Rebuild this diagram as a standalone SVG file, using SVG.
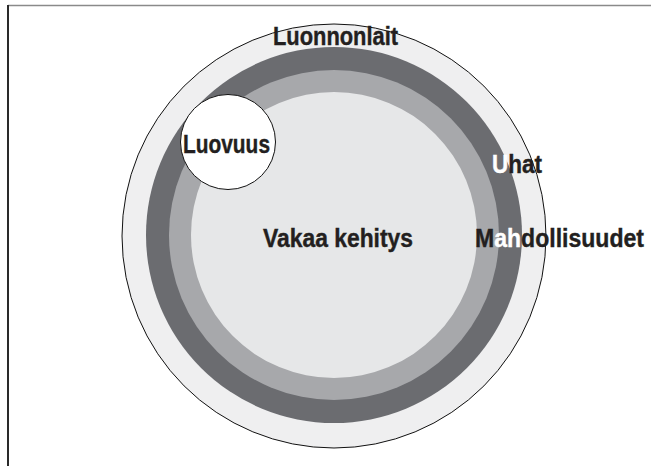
<svg xmlns="http://www.w3.org/2000/svg" width="651" height="466" viewBox="0 0 651 466">
  <style>
    .lbl { font-family: "Liberation Sans", Arial, sans-serif; font-weight: bold; font-size: 26px; fill: #231f20; stroke: #231f20; stroke-width: 0.4; }
    .w { fill: #ffffff; stroke: #ffffff; }
  </style>
  <rect width="651" height="466" fill="#ffffff"/>
  <!-- page frame: top and left rules only -->
  <g id="frame">
    <line x1="8" y1="5.5" x2="651" y2="5.5" stroke="#8a8a8a" stroke-width="1.5"/>
    <line x1="8" y1="5" x2="8" y2="466" stroke="#2a2a2a" stroke-width="2"/>
  </g>

  <g id="luonnonlait">
    <circle cx="334" cy="236" r="212" fill="#efeff0" stroke="#111" stroke-width="1"/>
    <text class="lbl" x="273" y="45" textLength="125" lengthAdjust="spacingAndGlyphs">Luonnonlait</text>
  </g>
  <g id="uhat">
    <circle cx="334" cy="235" r="188" fill="#6b6c70"/>
  </g>
  <g id="mahdollisuudet">
    <circle cx="334" cy="235" r="165" fill="#a7a8ab"/>
  </g>
  <g id="vakaa-kehitys">
    <circle cx="334" cy="235" r="143" fill="#e6e7e8"/>
    <text class="lbl" x="263" y="247" textLength="150" lengthAdjust="spacingAndGlyphs">Vakaa kehitys</text>
  </g>
  <g id="luovuus">
    <circle cx="228" cy="142" r="47.5" fill="#ffffff" stroke="#111" stroke-width="1"/>
    <text class="lbl" x="183" y="153" textLength="87" lengthAdjust="spacingAndGlyphs">Luovuus</text>
  </g>

  <!-- ring labels, letters over the dark bands are knocked out in white -->
  <g id="ring-labels">
    <text class="lbl" x="492" y="173" textLength="50" lengthAdjust="spacingAndGlyphs"><tspan class="w">U</tspan>hat</text>
    <text class="lbl" x="475" y="247" textLength="169" lengthAdjust="spacingAndGlyphs">M<tspan class="w">ah</tspan>dollisuudet</text>
  </g>
</svg>
